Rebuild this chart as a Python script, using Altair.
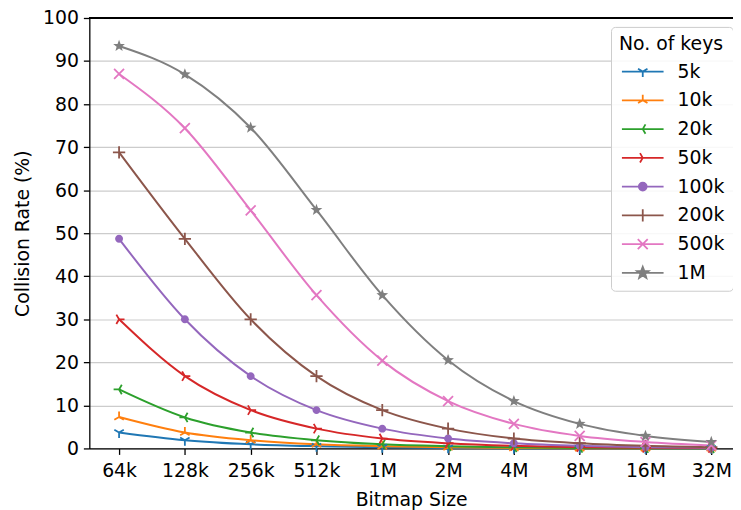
import math
import altair as alt
import pandas as pd

# ---- data ----
bitmap_sizes = ["64k", "128k", "256k", "512k", "1M", "2M", "4M", "8M", "16M", "32M"]
key_counts = ["5k", "10k", "20k", "50k", "100k", "200k", "500k", "1M"]

rate_5k = [3.7, 1.9, 0.95, 0.5, 0.25, 0.12, 0.06, 0.03, 0.015, 0.008]
rate_10k = [7.3, 3.7, 1.9, 0.95, 0.5, 0.25, 0.12, 0.06, 0.03, 0.015]
rate_20k = [13.7, 7.2, 3.7, 1.9, 0.95, 0.5, 0.25, 0.12, 0.06, 0.03]
rate_50k = [30.0, 16.8, 8.9, 4.6, 2.3, 1.2, 0.6, 0.3, 0.15, 0.08]
rate_100k = [48.7, 30.0, 16.8, 8.9, 4.6, 2.3, 1.2, 0.6, 0.3, 0.15]
rate_200k = [68.8, 48.7, 30.0, 16.8, 8.9, 4.6, 2.3, 1.2, 0.6, 0.3]
rate_500k = [87.0, 74.4, 55.3, 35.6, 20.4, 11.0, 5.7, 2.9, 1.5, 0.7]
rate_1M = [93.5, 86.9, 74.5, 55.4, 35.6, 20.5, 11.0, 5.7, 2.9, 1.5]

series = [rate_5k, rate_10k, rate_20k, rate_50k, rate_100k, rate_200k, rate_500k, rate_1M]
colors = ["#1f77b4", "#ff7f0e", "#2ca02c", "#d62728", "#9467bd", "#8c564b", "#e377c2", "#7f7f7f"]

rows = []
for k, vals in zip(key_counts, series):
    for i, v in enumerate(vals):
        rows.append({"xi": i, "size": bitmap_sizes[i], "keys": k, "rate": v})
df = pd.DataFrame(rows)

# ---- marker shapes (unit = 10px at size 400) ----
def star_path(ro, ri):
    pts = []
    for j in range(10):
        r = ro if j % 2 == 0 else ri
        a = math.radians(-90 + 36 * j)
        pts.append((r * math.cos(a), r * math.sin(a)))
    return "M" + "L".join(f"{x:.3f},{y:.3f}" for x, y in pts) + "Z"

def tri(dirs, r=0.55):
    return "".join(f"M0,0L{r*dx:.3f},{r*dy:.3f}" for dx, dy in dirs)

s3 = math.sqrt(3) / 2
marker_paths = [
    tri([(0, 1), (-s3, -0.5), (s3, -0.5)]),      # tri_down
    tri([(0, -1), (-s3, 0.5), (s3, 0.5)]),       # tri_up
    tri([(-1, 0), (0.5, -s3), (0.5, s3)]),       # tri_left
    tri([(1, 0), (-0.5, -s3), (-0.5, s3)]),      # tri_right
    "M-0.4,0A0.4,0.4 0 1,0 0.4,0A0.4,0.4 0 1,0 -0.4,0Z",  # circle
    "M-0.62,0L0.62,0M0,-0.62L0,0.62",            # plus
    "M-0.5,-0.5L0.5,0.5M-0.5,0.5L0.5,-0.5",      # x
    star_path(0.62, 0.26),                       # star
]
marker_filled = [False, False, False, False, True, False, False, True]
legend_paths = ["M-2.1,0L2.1,0" + p for p in marker_paths]

color_scale = alt.Scale(domain=key_counts, range=colors)
label_expr = "[" + ",".join(f"'{s}'" for s in bitmap_sizes) + "][datum.value]"

FS = 19

x_enc = alt.X(
    "xi:Q",
    scale=alt.Scale(domain=[-0.452, 9.33], nice=False, zero=False),
    axis=alt.Axis(values=list(range(len(bitmap_sizes))), labelExpr=label_expr,
                  title="Bitmap Size", grid=False, tickSize=6, labelPadding=7,
                  titlePadding=11),
)
y_enc = alt.Y(
    "rate:Q",
    scale=alt.Scale(domain=[0, 100], nice=False),
    axis=alt.Axis(values=list(range(0, 101, 10)), title="Collision Rate (%)",
                  grid=True, tickSize=6, labelPadding=5, titlePadding=10),
)

base = alt.Chart(df)

line_layers = []
marker_layers = []
for k, c, p, f in zip(key_counts, colors, marker_paths, marker_filled):
    sub = base.transform_filter(alt.datum.keys == k)
    line_layers.append(
        sub.mark_line(interpolate="monotone", strokeWidth=2, color=c).encode(x=x_enc, y=y_enc)
    )
    marker_layers.append(
        sub.mark_point(shape=p, size=400, filled=f, color=c, strokeWidth=1.8, opacity=1)
        .encode(x=x_enc, y=y_enc)
    )

leg = alt.Legend(
    title="No. of keys", orient="none", legendX=526, legendY=9, padding=8,
    fillColor="rgba(255,255,255,0.85)", strokeColor="#cccccc", cornerRadius=4,
    titleFontSize=FS, labelFontSize=FS, titleFontWeight="normal", titleColor="black",
    labelColor="black", symbolStrokeWidth=1.8, rowPadding=8, symbolOffset=13,
    labelOffset=24, symbolSize=400, titlePadding=7,
)

legend_layer = base.transform_filter("false").mark_point(
    filled=True, size=400, strokeWidth=1.8, opacity=1
).encode(
    x=x_enc, y=y_enc,
    shape=alt.Shape("keys:N", scale=alt.Scale(domain=key_counts, range=legend_paths), legend=leg),
    stroke=alt.Stroke("keys:N", scale=color_scale, legend=leg),
    fill=alt.Fill("keys:N", scale=color_scale, legend=leg),
)

top_spine = alt.Chart(df).mark_rule(color="black", strokeWidth=1.3).encode(y=alt.datum(100))

chart = alt.layer(*line_layers, *marker_layers, legend_layer, top_spine).properties(
    width=649, height=434,
    padding={"left": 82, "top": 8, "right": 0, "bottom": 60},
    autosize=alt.AutoSizeParams(type="none"),
).configure(font="DejaVu Sans", background="white").configure_view(
    stroke=None
).configure_axis(
    domainColor="black", domainWidth=1.3, tickColor="black", tickWidth=1.3,
    labelColor="black", titleColor="black", labelFontSize=FS, titleFontSize=FS,
    titleFontWeight="normal", labelFont="DejaVu Sans", titleFont="DejaVu Sans",
    gridColor="#cccccc", gridWidth=1.2,
)

chart.save("out.html", embed_options={"renderer": "svg", "actions": False})
